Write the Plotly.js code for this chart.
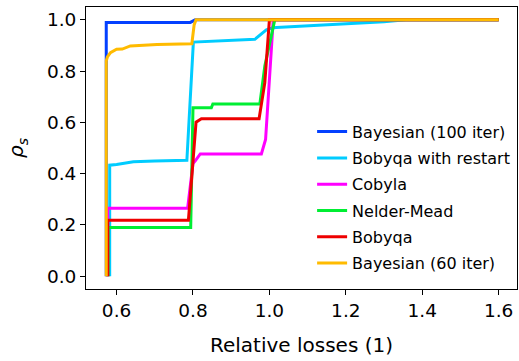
<!DOCTYPE html>
<html>
<head>
<meta charset="utf-8">
<script src="https://cdn.plot.ly/plotly-3.0.1.min.js"></script>
<style>html,body{margin:0;padding:0;background:#fff;}#chart{width:519px;height:361px;}</style>
</head>
<body>
<div id="chart"></div>
<script>
const names = ["Bayesian (100 iter)", "Bobyqa with restart", "Cobyla", "Nelder-Mead", "Bobyqa", "Bayesian (60 iter)"];
const colors = ["#0340ff", "#00ccff", "#ff00ff", "#00ee33", "#ee0000", "#ffbb00"];

const bay100X = [0.573, 0.573, 0.793, 0.806, 1.6];
const bay100Y = [0, 0.99, 0.99, 1.0, 1.0];

const restartX = [0.582, 0.582, 0.60, 0.62, 0.644, 0.70, 0.784, 0.801, 0.888, 0.962, 0.992, 1.009, 1.018, 1.19, 1.30, 1.357, 1.6];
const restartY = [0, 0.433, 0.436, 0.440, 0.446, 0.449, 0.452, 0.913, 0.918, 0.924, 0.961, 0.969, 0.970, 0.982, 0.992, 1.0, 1.0];

const cobylaX = [0.577, 0.577, 0.786, 0.800, 0.806, 0.819, 0.979, 0.990, 1.010, 1.6];
const cobylaY = [0, 0.265, 0.265, 0.440, 0.450, 0.477, 0.477, 0.533, 1.0, 1.0];

const nelderX = [0.578, 0.578, 0.794, 0.800, 0.848, 0.852, 0.975, 0.988, 1.014, 1.6];
const nelderY = [0, 0.19, 0.19, 0.657, 0.657, 0.672, 0.672, 0.82, 1.0, 1.0];

const bobyqaX = [0.577, 0.577, 0.788, 0.808, 0.822, 0.973, 0.988, 1.0, 1.6];
const bobyqaY = [0, 0.218, 0.218, 0.601, 0.614, 0.614, 0.755, 1.0, 1.0];

const bay60X = [0.573, 0.573, 0.576, 0.584, 0.60, 0.615, 0.636, 0.706, 0.797, 0.803, 0.808, 1.6];
const bay60Y = [0, 0.84, 0.855, 0.872, 0.885, 0.886, 0.898, 0.904, 0.907, 0.98, 1.0, 1.0];

const xs = [bay100X, restartX, cobylaX, nelderX, bobyqaX, bay60X];
const ys = [bay100Y, restartY, cobylaY, nelderY, bobyqaY, bay60Y];

const xTicks = [0.6, 0.8, 1.0, 1.2, 1.4, 1.6];
const yTicks = [0.0, 0.2, 0.4, 0.6, 0.8, 1.0];

const traces = names.map((n, i) => ({
  type: "scatter", mode: "lines", name: n,
  x: xs[i], y: ys[i], legendgroup: "g" + i,
  line: {color: colors[i], width: 3}
}));

const font = "DejaVu Sans, sans-serif";
const layout = {
  width: 519, height: 361,
  margin: {l: 86, r: 2, t: 7, b: 72, autoexpand: false},
  paper_bgcolor: "#fff", plot_bgcolor: "#fff",
  font: {family: font, color: "#000"},
  showlegend: true,
  legend: {x: 0.5246, xanchor: "left", y: 0.618, yanchor: "top", bgcolor: "rgba(0,0,0,0)",
           font: {size: 16, family: font}, traceorder: "grouped", tracegroupgap: 2.5},
  xaxis: {range: [0.52, 1.648], tickvals: xTicks, ticktext: xTicks.map(v => v.toFixed(1)),
          showgrid: false, zeroline: false, showline: true, linecolor: "#000", linewidth: 1, mirror: true,
          ticks: "outside", ticklen: 5, tickcolor: "#000", tickfont: {size: 18.5},
          title: {text: "Relative losses (1)", font: {size: 20}, standoff: 17}},
  yaxis: {range: [-0.05, 1.05], tickvals: yTicks, ticktext: yTicks.map(v => v.toFixed(1)),
          showgrid: false, zeroline: false, showline: true, linecolor: "#000", linewidth: 1, mirror: true,
          ticks: "outside", ticklen: 5, tickcolor: "#000", tickfont: {size: 18.5},
          title: {text: "<i>ρ<sub>s</sub></i>", font: {size: 20}, standoff: 17}}
};

Plotly.newPlot("chart", traces, layout, {displayModeBar: false, staticPlot: true});
</script>
</body>
</html>
